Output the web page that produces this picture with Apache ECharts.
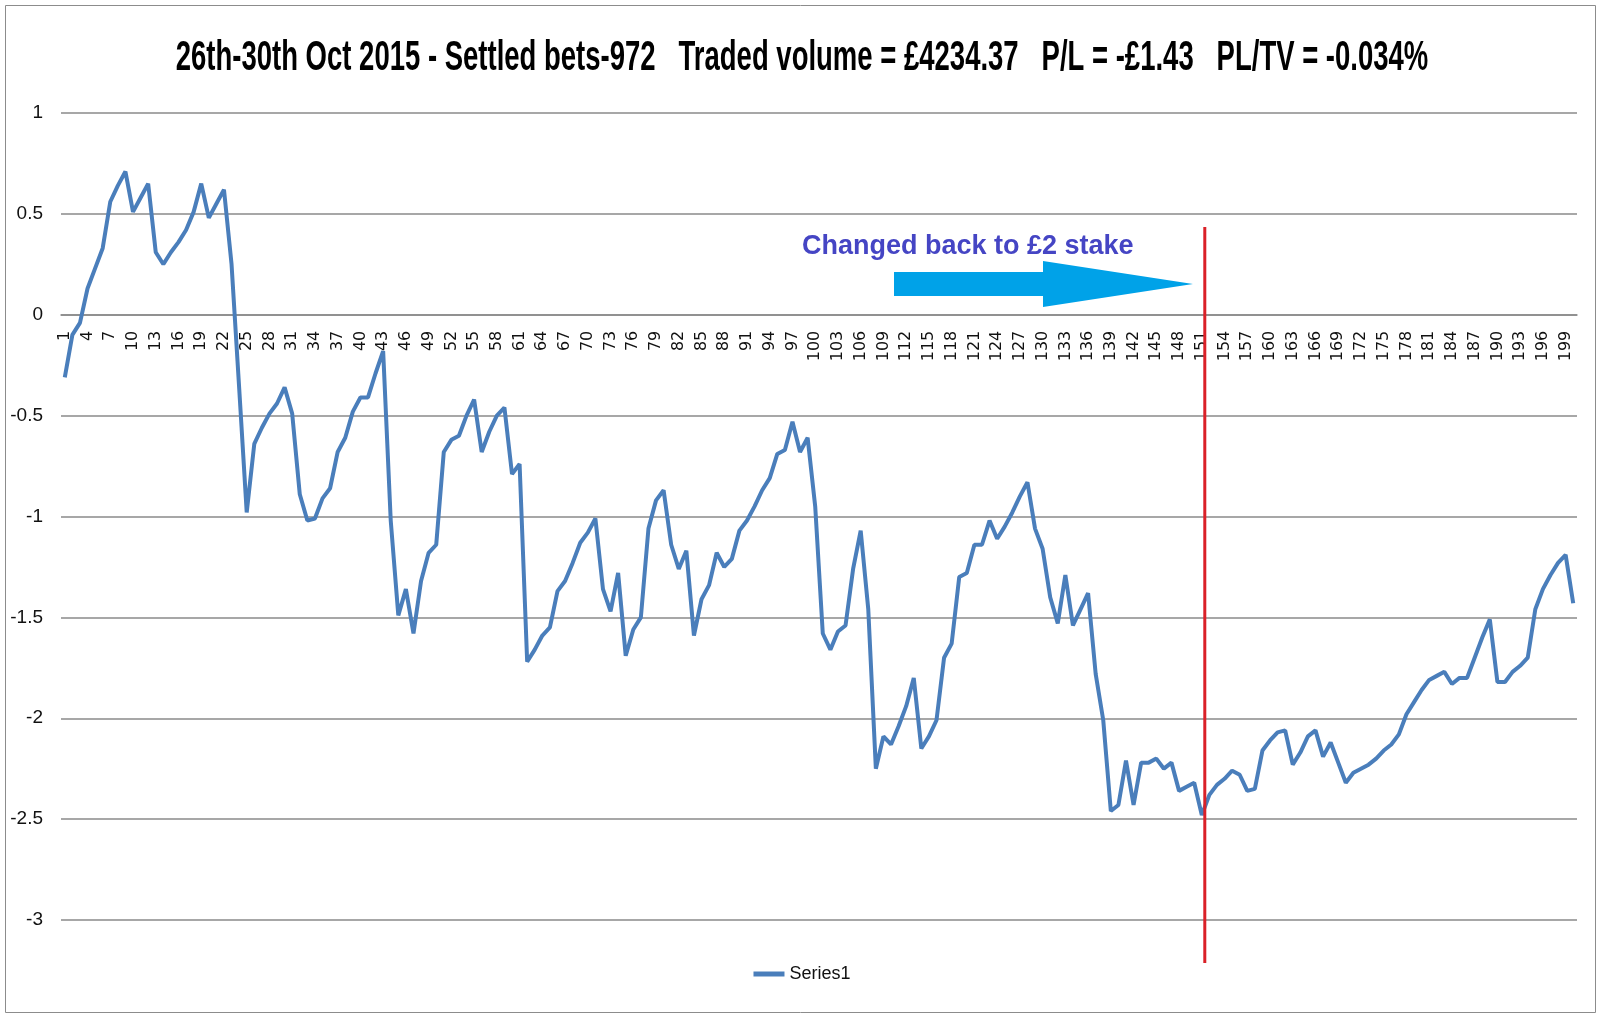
<!DOCTYPE html>
<html><head><meta charset="utf-8">
<script src="https://cdn.jsdelivr.net/npm/echarts@6/dist/echarts.min.js"></script>
<style>html,body{margin:0;padding:0;background:#fff}#c{width:1604px;height:1020px}</style>
</head><body><div id="c"></div>
<script>
const titleText = '26th-30th Oct 2015 - Settled bets-972   Traded volume = \u00a34234.37   P/L = -\u00a31.43   PL/TV = -0.034%';
const seriesName = 'Series1';
const annotationText = 'Changed back to \u00a32 stake';
const changeAt = '151';
const yTicks = { min: -3, max: 1, interval: 0.5 };
const values = [
  -0.31, -0.10, -0.04, 0.13, 0.23, 0.33, 0.56, 0.64, 0.71, 0.51,
  0.58, 0.65, 0.31, 0.25, 0.31, 0.36, 0.42, 0.51, 0.65, 0.48,
  0.55, 0.62, 0.25, -0.36, -0.98, -0.64, -0.56, -0.49, -0.44, -0.36,
  -0.49, -0.89, -1.02, -1.01, -0.91, -0.86, -0.68, -0.61, -0.48, -0.41,
  -0.41, -0.29, -0.18, -1.02, -1.49, -1.36, -1.58, -1.32, -1.18, -1.14,
  -0.68, -0.62, -0.60, -0.50, -0.42, -0.68, -0.58, -0.50, -0.46, -0.79,
  -0.74, -1.72, -1.66, -1.59, -1.55, -1.37, -1.32, -1.23, -1.13, -1.08,
  -1.01, -1.36, -1.47, -1.28, -1.69, -1.56, -1.50, -1.06, -0.92, -0.87,
  -1.14, -1.26, -1.17, -1.59, -1.41, -1.34, -1.18, -1.25, -1.21, -1.07,
  -1.02, -0.95, -0.87, -0.81, -0.69, -0.67, -0.53, -0.68, -0.61, -0.95,
  -1.58, -1.66, -1.57, -1.54, -1.26, -1.07, -1.46, -2.25, -2.09, -2.13,
  -2.04, -1.94, -1.80, -2.15, -2.09, -2.01, -1.70, -1.63, -1.30, -1.28,
  -1.14, -1.14, -1.02, -1.11, -1.05, -0.98, -0.90, -0.83, -1.06, -1.16,
  -1.40, -1.53, -1.29, -1.54, -1.46, -1.38, -1.78, -2.01, -2.46, -2.43,
  -2.21, -2.43, -2.22, -2.22, -2.20, -2.25, -2.22, -2.36, -2.34, -2.32,
  -2.48, -2.38, -2.33, -2.30, -2.26, -2.28, -2.36, -2.35, -2.16, -2.11,
  -2.07, -2.06, -2.23, -2.17, -2.09, -2.06, -2.19, -2.12, -2.22, -2.32,
  -2.27, -2.25, -2.23, -2.20, -2.16, -2.13, -2.08, -1.98, -1.92, -1.86,
  -1.81, -1.79, -1.77, -1.83, -1.80, -1.80, -1.70, -1.60, -1.51, -1.82,
  -1.82, -1.77, -1.74, -1.70, -1.46, -1.36, -1.29, -1.23, -1.19, -1.43
];
const categories = values.map((_, i) => String(i + 1));

const gridBottom = 100;
const chart = echarts.init(document.getElementById('c'));
chart.setOption({
  animation: false,
  backgroundColor: '#fff',
  grid: { left: 61, right: 27, top: 113, bottom: gridBottom },
  legend: {
    data: [seriesName], left: 'center', top: 960,
    icon: 'rect', itemWidth: 31, itemHeight: 5,
    textStyle: { fontFamily: '"Liberation Sans Narrow", "Liberation Sans", sans-serif', fontSize: 18, color: '#111' }
  },
  xAxis: {
    type: 'category', data: categories, boundaryGap: true, position: 'bottom',
    axisLine: { onZero: false, lineStyle: { color: '#8a8a8a', width: 1.5 } },
    axisTick: { show: false },
    axisLabel: { interval: 2, rotate: 90, fontFamily: '"DejaVu Sans", sans-serif', fontSize: 16, color: '#111', margin: 16 },
    splitLine: { show: false }
  },
  yAxis: {
    type: 'value', min: yTicks.min, max: yTicks.max, interval: yTicks.interval,
    axisLine: { show: false }, axisTick: { show: false },
    splitLine: { lineStyle: { color: '#8a8a8a', width: 1.5 } },
    axisLabel: { fontFamily: '"Liberation Sans Narrow", "Liberation Sans", sans-serif', fontSize: 19, color: '#111', margin: 18 }
  },
  series: [{
    name: seriesName, type: 'line', data: values, symbol: 'none', z: 5,
    lineStyle: { color: '#4A7EBB', width: 4 }, itemStyle: { color: '#4A7EBB' }
  }]
});

// put the category axis (with its labels) on the value-axis zero line
const yZero = chart.convertToPixel({ yAxisIndex: 0 }, 0);
const yBottom = chart.convertToPixel({ yAxisIndex: 0 }, yTicks.min);
chart.setOption({ xAxis: { offset: -(yBottom - yZero) } });

const redX = chart.convertToPixel({ xAxisIndex: 0 }, changeAt) + 3;
chart.setOption({
  graphic: [
    { type: 'rect', shape: { x: 5.5, y: 5.5, width: 1590, height: 1007 }, style: { fill: 'none', stroke: '#8c8c8c', lineWidth: 1 }, silent: true },
    { type: 'text', x: 802, y: 58, scaleY: 1.55,
      style: { text: titleText, textAlign: 'center', textVerticalAlign: 'middle', fill: '#000',
        font: 'bold 27.5px "Liberation Sans Narrow", "Liberation Sans", sans-serif' } },
    { type: 'text', x: 802, y: 247,
      style: { text: annotationText, textAlign: 'left', textVerticalAlign: 'middle', fill: '#4545C4',
        font: 'bold 27px "Liberation Sans", Arial, sans-serif' } },
    { type: 'polygon', shape: { points: [[894,272],[1043,272],[1043,261],[1193,284],[1043,307],[1043,296],[894,296]] },
      style: { fill: '#00A2E8' } },
    { type: 'line', shape: { x1: redX, y1: 227, x2: redX, y2: 963 }, style: { stroke: '#DA2128', lineWidth: 3 }, z: 10 }
  ]
});
</script></body></html>
